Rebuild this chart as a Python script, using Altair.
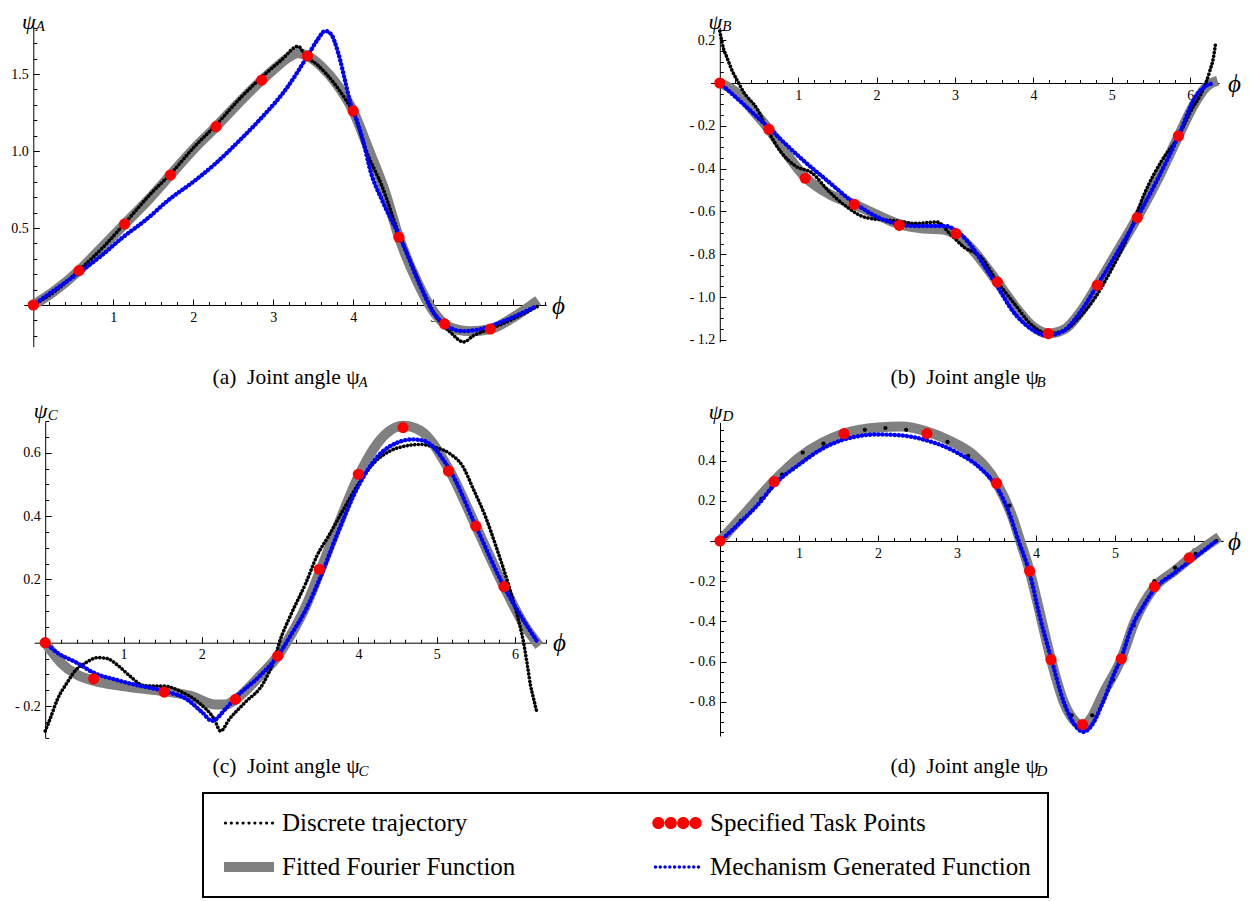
import altair as alt
import pandas as pd

W, H = 1233, 890
M = 8
FONT = "Liberation Serif"

# ---------------- Panel A ----------------
A_task_phi = [0, 0.571, 1.142, 1.714, 2.285, 2.856, 3.427, 3.998, 4.570, 5.141, 5.712]
A_task = [0, 0.223, 0.526, 0.844, 1.158, 1.46, 1.617, 1.26, 0.44, -0.123, -0.156]
A_fit_phi = [0, 0.25, 0.571, 0.85, 1.142, 1.45, 1.714, 2.0, 2.285, 2.6, 2.856, 3.05, 3.2, 3.3,
             3.427, 3.6, 3.8, 3.998, 4.2, 4.4, 4.570, 4.8, 4.95, 5.141, 5.3, 5.45, 5.712, 6.0, 6.31]
A_fit = [0, 0.085, 0.223, 0.37, 0.526, 0.69, 0.844, 1.01, 1.158, 1.33, 1.46, 1.55, 1.61, 1.635,
         1.617, 1.55, 1.43, 1.26, 1.0, 0.73, 0.44, 0.15, 0.0, -0.123, -0.16, -0.17, -0.156, -0.08, 0.03]
A_disc_phi = [0, 0.3, 0.571, 0.9, 1.142, 1.5, 1.714, 2.0, 2.285, 2.6, 2.856, 3.1, 3.31, 3.4, 3.55,
              3.79, 3.91, 4.0, 4.17, 4.36, 4.55, 4.75, 4.89, 5.03, 5.22, 5.38, 5.5, 5.712, 6.0, 6.3]
A_disc = [0, 0.1, 0.225, 0.39, 0.53, 0.74, 0.85, 1.02, 1.17, 1.35, 1.48, 1.59, 1.68, 1.62, 1.56,
          1.42, 1.33, 1.25, 0.99, 0.77, 0.49, 0.24, 0.07, -0.07, -0.18, -0.24, -0.2, -0.155, -0.09, -0.01]
A_mech_phi = [0, 0.3, 0.571, 0.85, 1.12, 1.4, 1.71, 2.0, 2.28, 2.6, 2.86, 3.17, 3.42, 3.55, 3.65,
              3.72, 3.81, 3.9, 3.97, 4.03, 4.12, 4.22, 4.36, 4.6, 4.84, 4.99, 5.13, 5.37, 5.56, 5.9, 6.28]
A_mech = [0, 0.11, 0.21, 0.32, 0.44, 0.55, 0.69, 0.8, 0.92, 1.08, 1.22, 1.41, 1.61, 1.72, 1.78,
          1.76, 1.64, 1.45, 1.3, 1.22, 1.07, 0.86, 0.68, 0.42, 0.12, -0.04, -0.12, -0.17, -0.16, -0.1, -0.01]

# ---------------- Panel B ----------------
B_task_phi = [0, 0.625, 1.09, 1.715, 2.29, 3.015, 3.54, 4.19, 4.815, 5.325, 5.85]
B_task = [0, -0.216, -0.445, -0.567, -0.665, -0.704, -0.93, -1.171, -0.945, -0.629, -0.248]
B_fit_phi = [0, 0.2, 0.45, 0.625, 0.85, 1.09, 1.4, 1.715, 2.0, 2.29, 2.6, 2.85, 3.015, 3.2, 3.54,
             3.8, 4.0, 4.19, 4.4, 4.6, 4.815, 5.05, 5.325, 5.6, 5.85, 6.05, 6.2, 6.35]
B_fit = [0, -0.04, -0.14, -0.216, -0.33, -0.44, -0.52, -0.567, -0.615, -0.66, -0.68, -0.685, -0.71,
         -0.77, -0.93, -1.06, -1.14, -1.17, -1.15, -1.07, -0.945, -0.8, -0.629, -0.44, -0.248, -0.1, -0.02, 0.01]
B_disc_phi = [0, 0.025, 0.05, 0.085, 0.125, 0.165, 0.215, 0.3, 0.475, 0.625, 0.775, 0.975, 1.175,
              1.375, 1.625, 1.875, 2.275, 2.475, 2.775, 2.925, 3.125, 3.325, 3.525, 3.775, 3.975,
              4.19, 4.375, 4.575, 4.775, 4.975, 5.225, 5.425, 5.625, 5.85, 6.025, 6.125, 6.2, 6.25, 6.3, 6.325]
B_disc = [0.243, 0.196, 0.157, 0.125, 0.087, 0.051, 0.017, -0.04, -0.12, -0.23, -0.32, -0.39, -0.42,
          -0.5, -0.58, -0.63, -0.645, -0.656, -0.65, -0.7, -0.77, -0.81, -0.92, -1.04, -1.13,
          -1.17, -1.16, -1.1, -1.01, -0.886, -0.7, -0.51, -0.37, -0.25, -0.12, -0.06, 0.0, 0.056, 0.126, 0.19]
B_mech_phi = [0, 0.325, 0.625, 1.09, 1.35, 1.715, 2.075, 2.475, 2.875, 3.015, 3.175, 3.375, 3.54,
              3.725, 3.975, 4.175, 4.375, 4.6, 4.815, 5.325, 5.85, 6.075, 6.2, 6.3]
B_mech = [0, -0.107, -0.21, -0.37, -0.45, -0.56, -0.637, -0.668, -0.668, -0.69, -0.746, -0.855, -0.95,
          -1.06, -1.15, -1.18, -1.16, -1.07, -0.945, -0.629, -0.248, -0.06, -0.014, 0.0]

# ---------------- Panel C ----------------
C_task_phi = [0, 0.62, 1.52, 2.43, 2.97, 3.50, 4.0, 4.57, 5.15, 5.50, 5.86]
C_task = [0, -0.114, -0.156, -0.179, -0.042, 0.232, 0.532, 0.679, 0.542, 0.368, 0.177]
C_fit_phi = [0, 0.2, 0.4, 0.62, 0.985, 1.52, 1.86, 2.16, 2.3, 2.43, 2.74, 2.97, 3.13, 3.33, 3.5,
             3.72, 4.0, 4.25, 4.57, 4.79, 5.15, 5.5, 5.86, 6.1, 6.31]
C_fit = [0, -0.063, -0.1, -0.12, -0.137, -0.153, -0.168, -0.195, -0.195, -0.179, -0.105, -0.042,
         0.021, 0.116, 0.22, 0.358, 0.525, 0.632, 0.685, 0.67, 0.55, 0.368, 0.177, 0.063, -0.01]
C_disc_phi = [0, 0.06, 0.156, 0.28, 0.4, 0.52, 0.67, 0.79, 0.94, 1.08, 1.28, 1.52, 1.72, 1.96, 2.16,
              2.24, 2.35, 2.55, 2.79, 2.94, 2.99, 3.13, 3.33, 3.47, 3.62, 3.81, 4.01, 4.2, 4.4, 4.6,
              4.79, 4.99, 5.18, 5.33, 5.47, 5.62, 5.77, 5.91, 6.03, 6.11, 6.16, 6.2, 6.24, 6.28]
C_disc = [-0.279, -0.242, -0.179, -0.126, -0.084, -0.063, -0.047, -0.05, -0.074, -0.105, -0.137,
          -0.137, -0.153, -0.189, -0.242, -0.279, -0.242, -0.189, -0.126, -0.042, 0.0, 0.084, 0.189,
          0.274, 0.337, 0.421, 0.505, 0.568, 0.605, 0.621, 0.626, 0.616, 0.595, 0.558, 0.484, 0.4,
          0.295, 0.189, 0.084, 0.0, -0.074, -0.137, -0.179, -0.221]
C_mech_phi = [0, 0.156, 0.4, 0.62, 0.89, 1.13, 1.52, 1.81, 2.01, 2.13, 2.3, 2.43, 2.74, 2.97, 3.13,
              3.33, 3.52, 3.72, 4.0, 4.25, 4.5, 4.69, 4.84, 5.15, 5.5, 5.86, 6.1, 6.28]
C_mech = [0, -0.032, -0.063, -0.095, -0.116, -0.132, -0.153, -0.179, -0.221, -0.247, -0.21, -0.174,
          -0.105, -0.042, 0.021, 0.105, 0.21, 0.337, 0.495, 0.589, 0.632, 0.642, 0.637, 0.553, 0.368,
          0.177, 0.074, 0.005]

# ---------------- Panel D ----------------
D_task_phi = [0, 0.686, 1.57, 2.62, 3.50, 3.92, 4.19, 4.59, 5.08, 5.50, 5.94]
D_task = [0, 0.295, 0.534, 0.534, 0.287, -0.15, -0.59, -0.913, -0.586, -0.227, -0.084]
D_fit_phi = [0, 0.3, 0.686, 1.0, 1.3, 1.57, 2.0, 2.3, 2.62, 2.9, 3.2, 3.5, 3.7, 3.8, 3.92, 4.05,
             4.19, 4.35, 4.5, 4.59, 4.7, 4.85, 5.08, 5.25, 5.5, 5.75, 6.0, 6.32]
D_fit = [0, 0.13, 0.3, 0.415, 0.49, 0.535, 0.565, 0.57, 0.545, 0.5, 0.43, 0.29, 0.12, 0.0, -0.15,
         -0.36, -0.59, -0.8, -0.9, -0.92, -0.88, -0.76, -0.586, -0.4, -0.23, -0.15, -0.07, 0.02]
D_disc_phi = [0, 0.262, 0.524, 0.785, 1.047, 1.309, 1.571, 1.833, 2.094, 2.356, 2.618, 2.880,
              3.142, 3.403, 3.665, 3.927, 4.189, 4.451, 4.712, 4.974, 5.236, 5.498, 5.760, 6.021, 6.283]
D_disc = [0, 0.1, 0.21, 0.33, 0.44, 0.484, 0.53, 0.553, 0.562, 0.553, 0.53, 0.493, 0.423, 0.32,
          0.176, -0.16, -0.59, -0.867, -0.867, -0.69, -0.42, -0.2, -0.133, -0.064, 0.0]
D_mech_phi = [0, 0.25, 0.5, 0.686, 1.0, 1.3, 1.57, 2.0, 2.3, 2.62, 3.0, 3.3, 3.5, 3.65, 3.78, 3.92,
              4.05, 4.19, 4.35, 4.5, 4.6, 4.7, 4.85, 5.0, 5.08, 5.2, 5.35, 5.5, 5.75, 6.0, 6.28]
D_mech = [0, 0.09, 0.19, 0.28, 0.38, 0.46, 0.505, 0.53, 0.525, 0.5, 0.44, 0.36, 0.27, 0.15, 0.0,
          -0.16, -0.38, -0.58, -0.8, -0.92, -0.95, -0.92, -0.8, -0.65, -0.58, -0.44, -0.33, -0.24,
          -0.16, -0.085, 0.0]

# ---------------- Legend ----------------
LEGEND_NAMES = ["Discrete trajectory", "Fitted Fourier Function",
                "Specified Task Points", "Mechanism Generated Function"]
LEGEND_COLORS = ["#000000", "#808080", "#ff0000", "#0000ff"]

SYM = 26.0           # legend symbol box (px)
U = SYM / 2.0        # one path unit in px


def dots_path(n, r_px, span_px):
    r = r_px / U
    span = span_px / U
    parts = []
    for i in range(n):
        cx = -span + 2 * span * i / (n - 1)
        parts.append(f"M{cx - r:.3f},0a{r:.3f},{r:.3f} 0 1,0 {2 * r:.3f},0a{r:.3f},{r:.3f} 0 1,0 {-2 * r:.3f},0")
    return "".join(parts)


def bar_path(half_w_px, half_h_px):
    w = half_w_px / U
    h = half_h_px / U
    return f"M{-w:.3f},{-h:.3f}H{w:.3f}V{h:.3f}H{-w:.3f}Z"


LEGEND_PATHS = [dots_path(9, 1.6, 23.5), bar_path(25, 5),
                dots_path(4, 6.1, 18.6), dots_path(10, 1.7, 21.5)]


def minor_vals(lo, hi, step, major_every):
    out = []
    k = int(round(lo / step)) - 1
    while k * step <= hi + 1e-9:
        v = round(k * step, 3)
        if lo - 1e-9 <= v <= hi + 1e-9 and k % major_every != 0:
            out.append(v)
        k += 1
    return out


YLAB = "datum.value < 0 ? '- ' + format(-datum.value, '.1f') : format(datum.value, '.1f')"


def panel(geo, fit_phi, fit, disc_phi, disc, mech_phi, mech, task_phi, task,
          ymaj, ystep, ymajor_every, letter, sub, cap_left, cap_y, phi_x, psi_dy,
          disc_points=False):
    x0, sx, y0, sy, xd, yd = geo
    xs = alt.Scale(domain=xd, range=[x0 + xd[0] * sx - M, x0 + xd[1] * sx - M], nice=False, zero=False)
    ys = alt.Scale(domain=yd, range=[y0 - yd[0] * sy - M, y0 - yd[1] * sy - M], nice=False, zero=False)
    ytop = y0 - yd[1] * sy
    xmaj = [v for v in [1, 2, 3, 4, 5, 6] if v <= xd[1]]
    xmin = minor_vals(0.0, xd[1], 0.2, 5)
    ymin = minor_vals(yd[0], yd[1], ystep, ymajor_every)
    common = dict(grid=False, tickColor="black", domainColor="black", labelColor="black",
                  titleColor="black", labelFlush=False, labelOverlap=False)

    ax_x_major = alt.Axis(orient="top", offset=-(y0 - M), values=xmaj, tickSize=6, tickWidth=1,
                          labels=False, domain=True, domainWidth=1,
                          title=f"({letter})\u00a0 Joint angle \u03c8", titleX=cap_left - M,
                          titleY=cap_y - y0, titleAlign="left", titleBaseline="middle",
                          titleFont=FONT, titleFontSize=21.5, titleFontWeight="normal", titleAngle=0,
                          **common)
    ax_x_minor = alt.Axis(orient="top", offset=-(y0 - M), values=xmin, tickSize=3.5, tickWidth=1,
                          labels=False, domain=False,
                          title=sub, titleX=cap_left - M + 146, titleY=cap_y - y0 + 4,
                          titleAlign="left", titleBaseline="middle", titleFont=FONT,
                          titleFontSize=15, titleFontStyle="italic", titleFontWeight="normal",
                          titleAngle=0, **common)
    ax_x_lab = alt.Axis(orient="bottom", offset=(y0 - M) - H, values=xmaj, ticks=False, tickSize=0,
                        domain=False, labels=True, labelFont=FONT, labelFontSize=14, labelPadding=5,
                        format="d", title="\u03d5", titleX=phi_x - M, titleY=0, titleAlign="center",
                        titleBaseline="middle", titleFont=FONT, titleFontSize=25,
                        titleFontStyle="italic", titleFontWeight="normal", titleAngle=0, **common)
    ax_y_major = alt.Axis(orient="right", offset=(x0 - M) - W, values=ymaj, tickSize=6, tickWidth=1,
                          labels=False, domain=True, domainWidth=1,
                          title="\u03c8", titleX=-5, titleY=ytop - psi_dy - M, titleAlign="center",
                          titleBaseline="middle", titleFont=FONT, titleFontSize=22,
                          titleFontStyle="italic", titleFontWeight="normal", titleAngle=0, **common)
    ax_y_minor = alt.Axis(orient="right", offset=(x0 - M) - W, values=ymin, tickSize=3.5, tickWidth=1,
                          labels=False, domain=False,
                          title=sub, titleX=2, titleY=ytop - psi_dy + 4 - M, titleAlign="left",
                          titleBaseline="middle", titleFont=FONT, titleFontSize=15,
                          titleFontStyle="italic", titleFontWeight="normal", titleAngle=0, **common)
    ax_y_lab = alt.Axis(orient="left", offset=-(x0 - M), values=ymaj, ticks=False, tickSize=0,
                        domain=False, labels=True, labelFont=FONT, labelFontSize=14, labelPadding=5,
                        labelExpr=YLAB, title=None, **common)

    def enc(xa, ya):
        return dict(x=alt.X("phi:Q", scale=xs, axis=xa), y=alt.Y("v:Q", scale=ys, axis=ya))

    fit_df = pd.DataFrame({"phi": fit_phi, "v": fit})
    disc_df = pd.DataFrame({"phi": disc_phi, "v": disc})
    mech_df = pd.DataFrame({"phi": mech_phi, "v": mech})
    task_df = pd.DataFrame({"phi": task_phi, "v": task})

    l_fit = alt.Chart(fit_df).mark_line(color="#808080", strokeWidth=10, strokeCap="butt",
                                         interpolate="monotone").encode(**enc(ax_x_major, ax_y_major))
    if disc_points:
        l_disc = alt.Chart(disc_df).mark_circle(color="black", size=18, opacity=1).encode(
            **enc(ax_x_minor, ax_y_minor))
    else:
        l_disc = alt.Chart(disc_df).mark_line(color="black", strokeWidth=3.6, strokeDash=[0.1, 3.6],
                                               strokeCap="round", interpolate="monotone").encode(
            **enc(ax_x_minor, ax_y_minor))
    l_mech = alt.Chart(mech_df).mark_line(color="#0000ff", strokeWidth=4.4, strokeDash=[0.1, 4.0],
                                           strokeCap="round", interpolate="monotone").encode(
        **enc(ax_x_lab, ax_y_lab))
    l_task = alt.Chart(task_df).mark_circle(color="#ff0000", size=125, opacity=1).encode(
        **enc(None, None))
    return [l_fit, l_disc, l_mech, l_task]


GEO_A = (33.3, 80.0, 305.0, 154.0, [-0.12, 6.41], [-0.27, 1.81])
GEO_B = (719.8, 78.4, 83.0, 214.0, [-0.12, 6.37], [-1.21, 0.26])
GEO_C = (45.2, 78.3, 642.7, 316.7, [-0.14, 6.40], [-0.30, 0.70])
GEO_D = (720.0, 79.0, 541.0, 201.0, [-0.13, 6.37], [-0.97, 0.59])

layers = []
layers += panel(GEO_A, A_fit_phi, A_fit, A_disc_phi, A_disc, A_mech_phi, A_mech, A_task_phi, A_task,
                [0.5, 1.0, 1.5], 0.1, 5, "a", "A", 212, 377, 558, 5)
layers += panel(GEO_B, B_fit_phi, B_fit, B_disc_phi, B_disc, B_mech_phi, B_mech, B_task_phi, B_task,
                [0.2, -0.2, -0.4, -0.6, -0.8, -1.0, -1.2], 0.05, 4, "b", "B", 890, 377, 1234, 6)
layers += panel(GEO_C, C_fit_phi, C_fit, C_disc_phi, C_disc, C_mech_phi, C_mech, C_task_phi, C_task,
                [0.6, 0.4, 0.2, -0.2], 0.05, 4, "c", "C", 212, 766, 559, 11)
layers += panel(GEO_D, D_fit_phi, D_fit, D_disc_phi, D_disc, D_mech_phi, D_mech, D_task_phi, D_task,
                [0.4, 0.2, -0.2, -0.4, -0.6, -0.8], 0.05, 4, "d", "D", 890, 766, 1234, 11,
                disc_points=True)

leg = alt.Legend(orient="none", legendX=203 - M, legendY=793 - M, columns=2, title=None,
                 symbolSize=SYM * SYM, symbolStrokeWidth=0, symbolOffset=16,
                 labelFont=FONT, labelFontSize=25, labelColor="black", labelLimit=600,
                 labelOffset=20, padding=17, rowPadding=18, columnPadding=132,
                 strokeColor="black", fillColor="white")
leg_df = pd.DataFrame({"name": LEGEND_NAMES})
legend_layer = alt.Chart(leg_df).mark_point(filled=True, opacity=1).encode(
    color=alt.Color("name:N", scale=alt.Scale(domain=LEGEND_NAMES, range=LEGEND_COLORS), legend=leg),
    shape=alt.Shape("name:N", scale=alt.Scale(domain=LEGEND_NAMES, range=LEGEND_PATHS), legend=leg),
).transform_filter("false")
layers.append(legend_layer)

chart = alt.layer(*layers).resolve_scale(
    x="independent", y="independent"
).resolve_axis(
    x="independent", y="independent"
).properties(
    width=W, height=H, padding=0, autosize=alt.AutoSizeParams(type="none")
).configure_view(stroke=None).configure_legend(strokeWidth=2)

chart.save("out.html", embed_options={"renderer": "svg", "actions": False})
